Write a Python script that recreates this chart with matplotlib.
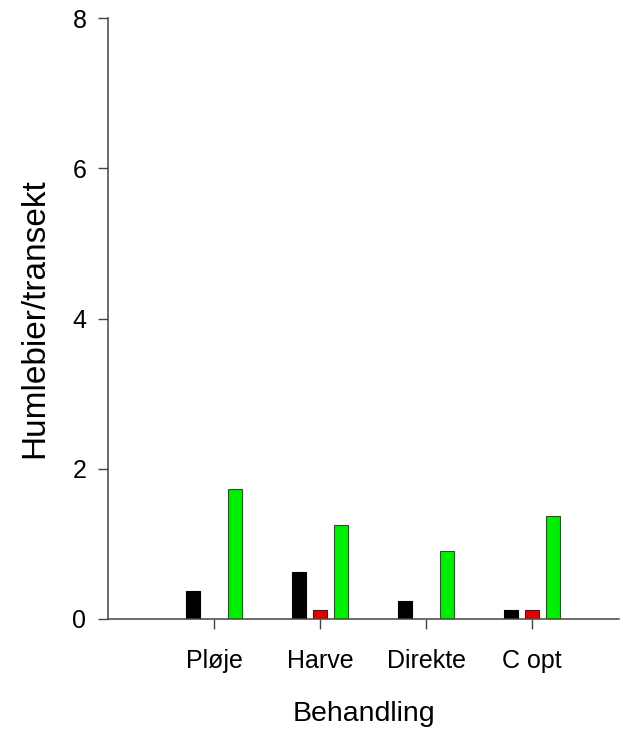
import numpy as np
import matplotlib
matplotlib.use("Agg")
import matplotlib.pyplot as plt

# bumblebees per transect for each soil treatment
behandling = ["Pløje", "Harve", "Direkte", "C opt"]
serie_sort = [0.37, 0.62, 0.24, 0.12]
serie_rod = [0.0, 0.12, 0.0, 0.12]
serie_gron = [1.73, 1.25, 0.91, 1.37]

plt.rcParams["font.family"] = ["Liberation Sans", "DejaVu Sans"]

W, H = 623, 733
fig = plt.figure(figsize=(W / 100, H / 100), dpi=100)
ax = fig.add_axes([108 / W, (H - 619) / H, (619 - 108) / W, (619 - 18) / H])

x = np.arange(1, len(behandling) + 1)
bw = 0.132
off = 0.2

ax.bar(x - off, serie_sort, bw, color="black", edgecolor="black", linewidth=0.8)
for xi, v in zip(x, serie_rod):
    if v > 0:
        ax.bar(xi, v, bw, color="#e80000", edgecolor="#5a1010", linewidth=0.8)
ax.bar(x + off, serie_gron, bw, color="#00ee00", edgecolor="#1f5a1f", linewidth=0.8)

ax.set_xlim(0, 4.82)
ax.set_ylim(0, 8)
ax.set_yticks([0, 2, 4, 6, 8])
ax.set_xticks(x)
ax.set_xticklabels(behandling)

for s in ["top", "right"]:
    ax.spines[s].set_visible(False)
for s in ["left", "bottom"]:
    ax.spines[s].set_color("#444444")
    ax.spines[s].set_linewidth(1.1)

ax.tick_params(direction="out", length=7.5, width=1.0, color="#444444",
               labelsize=18, pad=8)
ax.tick_params(axis="x", pad=14)

ax.set_xlabel("Behandling", fontsize=20.5, labelpad=20)
ax.set_ylabel("Humlebier/transekt", fontsize=24, labelpad=16)

fig.savefig("out.png", dpi=100)
